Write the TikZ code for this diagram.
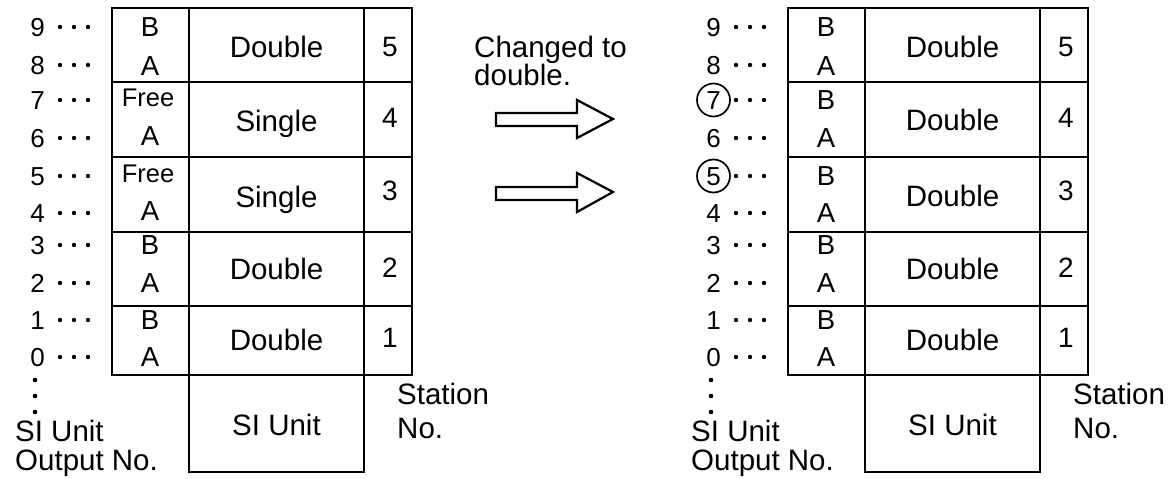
\documentclass[tikz,border=0pt]{standalone}
\usepackage{fontspec}
\setmainfont{Liberation Sans}
\newcommand\mytable[1]{%
  \draw[frame] (112,8) rectangle (412,375);
  \foreach \yy in {82,157,232,306} \draw[inner] (112,\yy) -- (412,\yy);
  \draw[inner] (189,8) -- (189,472);
  \draw[inner] (364,8) -- (364,472);
  \draw[frame] (189,375) -- (189,472) -- (364,472) -- (364,375);
  \node[word] (#1si) at (276.5,425) {SI Unit};
  \node[word,anchor=west] (#1st) at (397,394) {Station};
  \node[word,anchor=west] (#1no) at (397,428) {No.};
  \node[word,anchor=west] (#1ou1) at (15,431) {SI Unit};
  \node[word,anchor=west] (#1ou2) at (15,460) {Output No.};
  \foreach \yy in {380,396,412} \fill (35,\yy) circle (2.3);
  \foreach \d/\yy in {9/27,8/65,7/100,6/138,5/176,4/213,3/245,2/283,1/320,0/357}{%
    \node[digit] (#1n\d) at (37.5,\yy) {\d};
    \foreach \xx in {60,74,88} \fill (\xx,\yy) circle (2.2);
  }
  \foreach \s/\yy in {5/46,4/117,3/190,2/267,1/337}
    \node[bigdigit] (#1s\s) at (390,\yy) {\s};
}
\begin{document}
\begin{tikzpicture}[x=1pt,y={(0pt,-1pt)},
  frame/.style={line width=2.5pt},
  inner/.style={line width=2.2pt},
  word/.style={inner sep=0pt, font=\fontsize{29.5}{30}\selectfont, text height=21pt, text depth=0pt},
  digit/.style={inner sep=0pt, font=\fontsize{26}{27}\selectfont, text height=18.6pt, text depth=0pt},
  bigdigit/.style={inner sep=0pt, font=\fontsize{28}{29}\selectfont, text height=20pt, text depth=0pt},
  letter/.style={inner sep=0pt, font=\fontsize{27.5}{28}\selectfont, text height=19.7pt, text depth=0pt},
  small/.style={inner sep=0pt, font=\fontsize{25.5}{26}\selectfont, text height=18.3pt, text depth=0pt},
  blockarrow/.style={line width=2.2pt, line join=miter}]
\useasboundingbox (0,0) rectangle (1176,479);
% left table
\mytable{L}
\node[letter] (LB5) at (150,27) {B};
\node[letter] (LA5) at (150,66) {A};
\node[small] (LF4) at (148,97) {Free};
\node[letter] (LA4) at (150,136) {A};
\node[small] (LF3) at (148,173) {Free};
\node[letter] (LA3) at (150,211) {A};
\node[letter] (LB2) at (150,245) {B};
\node[letter] (LA2) at (150,283) {A};
\node[letter] (LB1) at (150,320) {B};
\node[letter] (LA1) at (150,357) {A};
\node[word] (LW5) at (276.5,47) {Double};
\node[word] (LW4) at (276.5,121) {Single};
\node[word] (LW3) at (276.5,197) {Single};
\node[word] (LW2) at (276.5,269) {Double};
\node[word] (LW1) at (276.5,340) {Double};
% arrows and note
\node[word,anchor=west] (note1) at (474,47) {Changed to};
\node[word,anchor=west] (note2) at (474,75) {double.};
\draw[blockarrow] (496,113) -- (577,113) -- (577,100) -- (613,119) -- (577,138) -- (577,126) -- (496,126) -- cycle;
\draw[blockarrow] (496,187) -- (577,187) -- (577,173) -- (613,192) -- (577,212) -- (577,200) -- (496,200) -- cycle;
% right table
\begin{scope}[xshift=676pt]
\mytable{R}
\draw[line width=1.7pt] (Rn7.center) circle (16.5);
\draw[line width=1.7pt] (Rn5.center) circle (16.5);
\foreach \s/\yb/\ya in {5/27/66,4/100/138,3/176/213,2/245/283,1/320/357}{%
  \node[letter] (RB\s) at (150,\yb) {B};
  \node[letter] (RA\s) at (150,\ya) {A};
}
\node[word] (RW5) at (276.5,47) {Double};
\node[word] (RW4) at (276.5,120) {Double};
\node[word] (RW3) at (276.5,196) {Double};
\node[word] (RW2) at (276.5,269) {Double};
\node[word] (RW1) at (276.5,340) {Double};
\end{scope}
\end{tikzpicture}
\end{document}
